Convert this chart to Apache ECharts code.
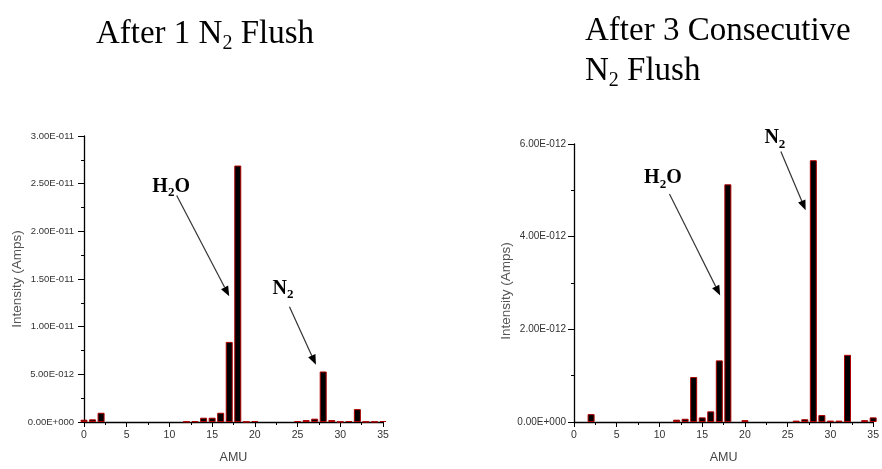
<!DOCTYPE html>
<html><head><meta charset="utf-8">
<script src="https://cdn.jsdelivr.net/npm/echarts@6/dist/echarts.min.js"></script>
<style>html,body{margin:0;padding:0;background:#fff}#c{width:882px;height:469px}</style>
</head><body><div id="c"></div>
<script>
// ---- DATA (intensity in units of 1E-12 A) ----
const amu = [0,1,2,3,4,5,6,7,8,9,10,11,12,13,14,15,16,17,18,19,20,21,22,23,24,25,26,27,28,29,30,31,32,33,34,35];
const afterOneFlush = [0.24,0.28,0.97,0,0,0,0,0,0,0,0,0,0.05,0.08,0.45,0.45,0.97,8.4,26.9,0.03,0.1,0,0,0,0,0.1,0.2,0.35,5.3,0.2,0.03,0.1,1.35,0.03,0.03,0.1];
const afterThreeFlush = [0,0,0.17,0,0,0,0,0,0,0,0,0,0.05,0.07,0.97,0.1,0.23,1.33,5.13,0,0.04,0,0,0,0,0,0.03,0.06,5.65,0.15,0.03,0.03,1.45,0,0.04,0.1];
const xTickLabels = ['0','5','10','15','20','25','30','35'];
const leftYTickLabels = ['0.00E+000','5.00E-012','1.00E-011','1.50E-011','2.00E-011','2.50E-011','3.00E-011'];
const rightYTickLabels = ['0.00E+000','2.00E-012','4.00E-012','6.00E-012'];
const yAxisTitle = 'Intensity (Amps)';
const xAxisTitle = 'AMU';

const NARROW = "'Liberation Sans Narrow','Arial Narrow','Liberation Sans',sans-serif";
const SERIF = "'Liberation Serif','Times New Roman',serif";

function pairs(vals){ const out=[]; amu.forEach((a,i)=>{ if(vals[i]>0) out.push([a, vals[i]]); }); return out; }

function xAxis(gi){
  return {
    type:'value', gridIndex:gi, min:0, max:35, interval:5,
    name:xAxisTitle, nameLocation:'middle', nameGap:29,
    nameTextStyle:{fontFamily:NARROW, fontSize:12.5, color:'#444'},
    axisLine:{show:true, onZero:false, lineStyle:{color:'#000', width:1.3}},
    axisTick:{show:true, length:5, lineStyle:{color:'#000', width:1}},
    minorTick:{show:true, splitNumber:2, length:3, lineStyle:{color:'#000', width:1}},
    splitLine:{show:false},
    axisLabel:{margin:8, fontFamily:NARROW, fontSize:10.5, color:'#333',
      formatter:v=>xTickLabels[Math.round(v/5)]}
  };
}
function yAxis(gi, max, step, labels, gap, margin, fs, pad){
  return {
    type:'value', gridIndex:gi, min:0, max:max, interval:step,
    name:yAxisTitle, nameLocation:'middle', nameGap:gap,
    nameTextStyle:{fontFamily:"'Liberation Sans',sans-serif", fontSize:13.5, color:'#555', padding:pad},
    axisLine:{show:true, lineStyle:{color:'#000', width:1.3}},
    axisTick:{show:true, length:6, lineStyle:{color:'#000', width:1}},
    minorTick:{show:true, splitNumber:2, length:3, lineStyle:{color:'#000', width:1}},
    splitLine:{show:false},
    axisLabel:{margin:margin, fontFamily:NARROW, fontSize:fs, color:'#333',
      formatter:v=>labels[Math.round(v/step)]}
  };
}
const barStyle = {color:'#000', borderColor:'#b00000', borderWidth:1};

const chart = echarts.init(document.getElementById('c'), null, {renderer:'canvas'});
chart.setOption({
  animation:false,
  backgroundColor:'#fff',
  grid:[
    {left:84, top:136, width:299, height:290},
    {left:574, top:144, width:300, height:283}
  ],
  xAxis:[xAxis(0), xAxis(1)],
  yAxis:[
    yAxis(0, 30, 5, leftYTickLabels, 60, 10, 9.5, [0,0,0,0]),
    yAxis(1, 6, 2, rightYTickLabels, 54, 8, 10, [0,16,0,0])
  ],
  series:[
    {type:'bar', xAxisIndex:0, yAxisIndex:0, data:pairs(afterOneFlush), barWidth:7, itemStyle:barStyle},
    {type:'bar', xAxisIndex:1, yAxisIndex:1, data:pairs(afterThreeFlush), barWidth:7, itemStyle:barStyle}
  ]
});

// ---- annotations (anchored in data coordinates) ----
const titleRich = {
  m:{fontFamily:SERIF, fontSize:33, color:'#000', lineHeight:40},
  s:{fontFamily:SERIF, fontSize:20, color:'#000', verticalAlign:'top', padding:[20,0,0,0]}
};
const noteRich = {
  b:{fontFamily:SERIF, fontSize:20, fontWeight:'bold', color:'#000', lineHeight:24},
  s:{fontFamily:SERIF, fontSize:13, fontWeight:'bold', color:'#000', verticalAlign:'top', padding:[13,0,0,0]}
};
const notes = [
  {grid:0, text:'{b|H}{s|2}{b|O}', at:[10.2,24.7], from:[10.85,23.75], to:[17.0,13.2]},
  {grid:0, text:'{b|N}{s|2}', at:[23.3,14.0], from:[24.05,12.1], to:[27.15,6.0]},
  {grid:1, text:'{b|H}{s|2}{b|O}', at:[10.4,5.26], from:[11.17,4.92], to:[17.1,2.73]},
  {grid:1, text:'{b|N}{s|2}', at:[23.5,6.13], from:[24.2,5.84], to:[27.1,4.57]}
];
const g = [];
g.push({type:'text', x:205, y:14, style:{text:'{m|After 1 N}{s|2}{m| Flush}', rich:titleRich, align:'center', verticalAlign:'top'}});
g.push({type:'text', x:585, y:11, style:{text:'{m|After 3 Consecutive}\n{m|N}{s|2}{m| Flush}', rich:titleRich, align:'left', verticalAlign:'top'}});
notes.forEach(n=>{
  const f = {gridIndex:n.grid};
  const p = chart.convertToPixel(f, n.at);
  const a = chart.convertToPixel(f, n.from);
  const b = chart.convertToPixel(f, n.to);
  g.push({type:'text', x:p[0], y:p[1], style:{text:n.text, rich:noteRich, align:'center', verticalAlign:'middle'}});
  const dx=b[0]-a[0], dy=b[1]-a[1], L=Math.hypot(dx,dy), ux=dx/L, uy=dy/L, nx=-uy, ny=ux;
  const hl=10, hw=4;
  const bx=b[0]-ux*hl, by=b[1]-uy*hl;
  g.push({type:'line', shape:{x1:a[0], y1:a[1], x2:bx, y2:by}, style:{stroke:'#333', lineWidth:1.2}});
  g.push({type:'polygon', shape:{points:[[b[0],b[1]],[bx+nx*hw,by+ny*hw],[bx-nx*hw,by-ny*hw]]}, style:{fill:'#000'}});
});
chart.setOption({graphic:g});
</script></body></html>
